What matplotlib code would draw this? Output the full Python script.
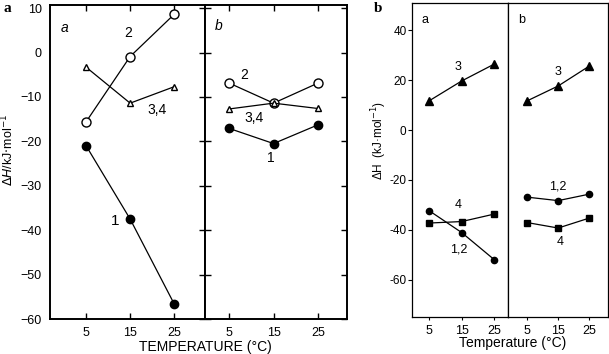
import matplotlib.pyplot as plt
import numpy as np

plt.rcParams['font.family'] = ['Liberation Sans', 'DejaVu Sans']

temps = [5, 15, 25]

# left figure (a): panels a and b
la_1 = [-21, -37.5, -56.6]
la_2 = [-15.6, -0.9, 8.6]
la_34 = [-3.3, -11.4, -7.7]
lb_1 = [-17.1, -20.5, -16.3]
lb_2 = [-6.9, -11.4, -6.9]
lb_34 = [-12.7, -11.4, -12.6]
left_yticks = [10, 0, -10, -20, -30, -40, -50, -60]

# right figure (b): panels a and b
ra_3 = [11.7, 19.7, 26.5]
ra_12 = [-32.3, -41.1, -52]
ra_4 = [-37.3, -36.7, -33.7]
rb_3 = [11.7, 17.7, 25.7]
rb_12 = [-26.9, -28.3, -25.7]
rb_4 = [-37.1, -39.3, -35.3]
right_yticks = [40, 20, 0, -20, -40, -60]

W, H = 609, 354
fig = plt.figure(figsize=(W / 100, H / 100), dpi=100)


def box(x0, y0, x1, y1):
    return [x0 / W, 1 - y1 / H, (x1 - x0) / W, (y1 - y0) / H]


# ---------- left figure ----------
axa = fig.add_axes(box(50, 5, 205, 319))
axb = fig.add_axes(box(205, 5, 347, 319))
for ax in (axa, axb):
    ax.set_ylim(-60, 10.7)
    for s in ax.spines.values():
        s.set_linewidth(1.4)
    ax.set_xticks(temps)
    ax.tick_params(axis='x', direction='in', top=True, length=4, width=1,
                   labelsize=9, pad=6)
axa.set_xlim(-3.2, 32)
axb.set_xlim(-0.5, 31.6)

axa.set_yticks(left_yticks)
axa.set_yticklabels([str(v).replace('-', '\u2212') for v in left_yticks])
axa.tick_params(axis='y', left=False, right=True, direction='in', length=4,
                width=1, labelsize=9, pad=6)
axb.set_yticks(left_yticks)
axb.tick_params(axis='y', left=True, right=True, direction='in', length=4,
                width=1, labelleft=False)

lk = dict(color='black', lw=0.9)
axa.plot(temps, la_1, marker='o', ms=6, mfc='black', mec='black', **lk)
axa.plot(temps, la_2, marker='o', ms=6.5, mfc='white', mec='black', **lk)
axa.plot(temps, la_34, marker='^', ms=5, mfc='white', mec='black', **lk)
axb.plot(temps, lb_1, marker='o', ms=6, mfc='black', mec='black', **lk)
axb.plot(temps, lb_2, marker='o', ms=6.5, mfc='white', mec='black', **lk)
axb.plot(temps, lb_34, marker='^', ms=5, mfc='white', mec='black', **lk)

axa.text(0.07, 0.95, 'a', transform=axa.transAxes, fontsize=10, style='italic',
         ha='left', va='top')
axb.text(0.07, 0.955, 'b', transform=axb.transAxes, fontsize=10, style='italic',
         ha='left', va='top')
axa.text(14.5, 4.3, '2', fontsize=10, ha='center', va='center')
axa.text(21, -12.9, '3,4', fontsize=10, ha='center', va='center')
axa.text(11.5, -38, '1', fontsize=11, ha='center', va='center')
axb.text(8.3, -5.1, '2', fontsize=10, ha='center', va='center')
axb.text(10.5, -14.8, '3,4', fontsize=10, ha='center', va='center')
axb.text(14.3, -23.8, '1', fontsize=10, ha='center', va='center')

fig.text(8 / W, 1 - 150 / H, r'$\mathit{\Delta H}$/kJ$\cdot$mol$^{-1}$',
         rotation=90, ha='center', va='center', fontsize=9)
fig.text(205 / W, 1 - 347 / H, 'TEMPERATURE (\u00b0C)', ha='center',
         va='center', fontsize=10)
fig.text(3 / W, 1 - 8 / H, 'a', fontsize=11, fontweight='bold',
         family='Liberation Serif', ha='left', va='center')

# ---------- right figure ----------
rxa = fig.add_axes(box(412, 3, 508, 317))
rxb = fig.add_axes(box(508, 3, 608, 317))
for ax in (rxa, rxb):
    ax.set_ylim(-75, 51)
    for s in ax.spines.values():
        s.set_linewidth(0.9)
    ax.set_xticks(temps)
    ax.tick_params(axis='x', direction='out', length=2.5, width=0.8,
                   labelsize=9, pad=3)
rxa.set_xlim(-0.2, 29.2)
rxb.set_xlim(-1.1, 31)
rxa.set_yticks(right_yticks)
rxa.set_yticklabels([str(v) for v in right_yticks])
rxa.tick_params(axis='y', direction='out', length=3, width=0.8, labelsize=8.5,
                pad=1)
rxb.tick_params(axis='y', left=False, labelleft=False)

rk = dict(color='black', lw=0.9)
rxa.plot(temps, ra_3, marker='^', ms=5.5, mfc='black', mec='black', **rk)
rxa.plot(temps, ra_12, marker='o', ms=4.5, mfc='black', mec='black', **rk)
rxa.plot(temps, ra_4, marker='s', ms=4.5, mfc='black', mec='black', **rk)
rxb.plot(temps, rb_3, marker='^', ms=5.5, mfc='black', mec='black', **rk)
rxb.plot(temps, rb_12, marker='o', ms=4.5, mfc='black', mec='black', **rk)
rxb.plot(temps, rb_4, marker='s', ms=4.5, mfc='black', mec='black', **rk)

rxa.text(0.1, 0.965, 'a', transform=rxa.transAxes, fontsize=9, ha='left',
         va='top')
rxb.text(0.1, 0.965, 'b', transform=rxb.transAxes, fontsize=9, ha='left',
         va='top')
rxa.text(14, 25.5, '3', fontsize=9, ha='center', va='center')
rxa.text(14, -30, '4', fontsize=9, ha='center', va='center')
rxa.text(14, -48, '1,2', fontsize=9, ha='center', va='center')
rxb.text(15, 23.5, '3', fontsize=9, ha='center', va='center')
rxb.text(15, -22.5, '1,2', fontsize=9, ha='center', va='center')
rxb.text(15.5, -45, '4', fontsize=9, ha='center', va='center')

fig.text(379 / W, 1 - 140 / H, '\u0394H  (kJ\u00b7mol$^{-1}$)', rotation=90,
         ha='center', va='center', fontsize=8.5)
fig.text(513 / W, 1 - 343 / H, 'Temperature (\u00b0C)', ha='center',
         va='center', fontsize=10)
fig.text(378 / W, 1 - 8 / H, 'b', fontsize=11, fontweight='bold',
         family='Liberation Serif', ha='center', va='center')

fig.savefig('out.png', dpi=100)
